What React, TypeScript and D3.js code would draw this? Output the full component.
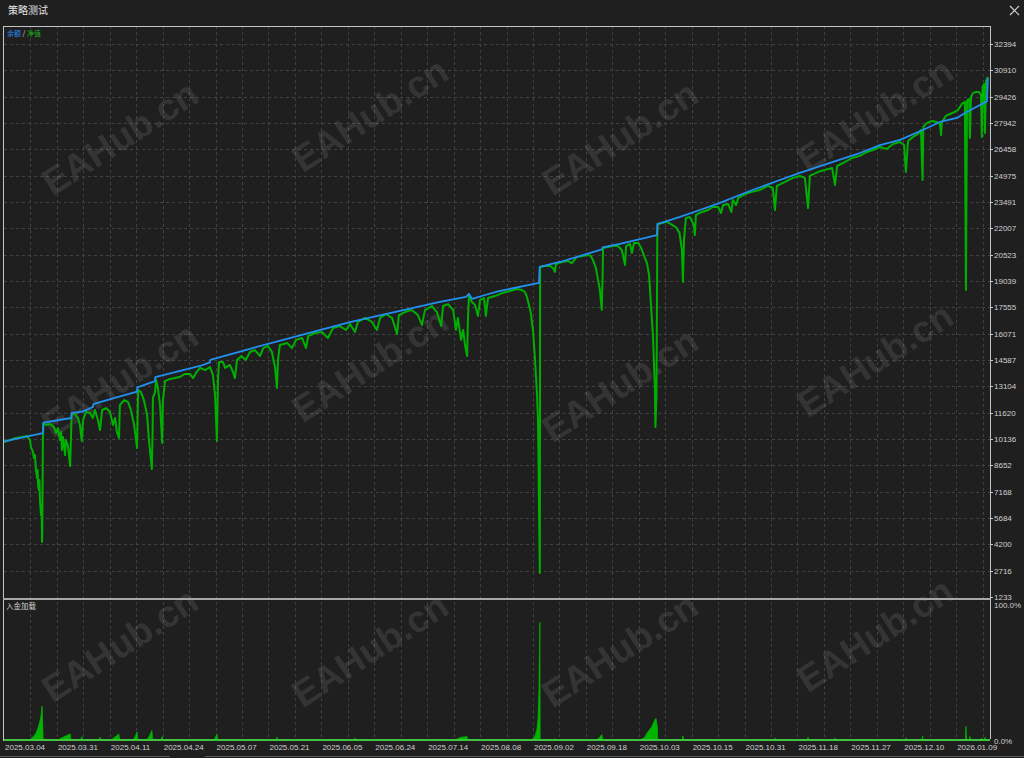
import React from "react";
import * as d3 from "d3";

// ---- data (x = deal index in grid units, y = account value) ----
const yTicks = [32394, 30910, 29426, 27942, 26458, 24975, 23491, 22007, 20523, 19039, 17555, 16071, 14587, 13104, 11620, 10136, 8652, 7168, 5684, 4200, 2716, 1233];
const dateLabels = ["2025.03.04", "2025.03.31", "2025.04.11", "2025.04.24", "2025.05.07", "2025.05.21", "2025.06.05", "2025.06.24", "2025.07.14", "2025.08.08", "2025.09.02", "2025.09.18", "2025.10.03", "2025.10.15", "2025.10.31", "2025.11.18", "2025.11.27", "2025.12.10", "2026.01.09"];
const loadTicks = ["100.0%", "0.0%"];

const balancePts: [number, number][] = [
  [0, 10000], [14.7, 10470], [14.9, 11060], [25.4, 11320], [25.6, 11600], [29.9, 11690], [33.6, 11940], [33.8, 12100], [41.2, 12420], [50.3, 12810], [50.4, 13040], [56.3, 13350], [57.1, 13390], [57.2, 13620], [74.1, 14250], [77.9, 14450], [78.0, 14600], [93.0, 15220], [111.9, 15980], [130.8, 16720], [149.7, 17350], [164.8, 17860], [174.7, 18140], [175.8, 18310], [177.0, 18030], [181.9, 18250], [187.5, 18480], [202.3, 18930], [202.5, 19830], [210.2, 20110], [226.1, 20820], [226.3, 20930], [232.9, 21130], [246.9, 21630], [247.1, 22250], [255.6, 22650], [263.1, 23040], [270.7, 23440], [282.0, 24110], [293.4, 24730], [300.9, 25130], [312.3, 25690], [323.6, 26250], [331.2, 26700], [338.8, 26990], [347.4, 27550], [353.9, 28000], [360.3, 28230], [363.3, 28510], [369.0, 28960], [371.6, 29160], [372.0, 30480]
];

const equityPts: [number, number][] = [
  [0, 9970], [2.3, 10080], [4.5, 10190], [6.8, 10250], [8.7, 10300], [9.8, 10080], [10.2, 9680], [11.0, 9400], [11.3, 9060], [11.7, 9230], [12.1, 8390], [12.5, 7940], [12.7, 8390], [12.9, 7540], [13.2, 7260], [13.4, 7820], [13.6, 6700], [14.0, 5850], [14.2, 6420], [14.4, 4330], [14.5, 5570], [14.7, 10080], [14.9, 11040],
  [15.9, 10920], [17.4, 10980], [18.9, 10810], [19.7, 10470], [20.4, 10750], [21.2, 10080], [21.6, 10530], [21.9, 9520], [22.3, 10250], [23.1, 9230], [23.4, 10080], [24.2, 9740], [25.0, 8610], [25.3, 10080], [25.6, 11600],
  [26.8, 11540], [28.0, 11320], [28.7, 10920], [29.4, 10020], [29.9, 11210], [31.0, 11660], [32.5, 11600], [33.6, 11320], [34.4, 11770], [35.5, 11210], [36.3, 10640], [37.1, 11770], [38.6, 11880], [40.1, 11660], [41.2, 10920], [42.0, 11320], [42.7, 10530], [43.5, 10190], [43.8, 12050], [45.4, 12330], [46.9, 12220], [48.0, 11770], [49.2, 10920], [50.3, 9630], [50.7, 12900], [51.8, 12780], [52.9, 12330], [54.1, 11490], [54.8, 10080], [55.9, 8450], [56.2, 10640], [56.3, 12450], [57.1, 12780], [57.5, 13460], [58.2, 13010], [59.0, 12050], [59.8, 9910], [60.1, 12330], [60.9, 13400],
  [62.8, 13520], [64.7, 13570], [66.5, 13630], [68.4, 13800], [70.3, 13800], [71.5, 13570], [72.6, 13860], [74.1, 14140], [76.0, 14020], [77.9, 14190], [79.0, 13740], [79.8, 12620], [80.5, 10020], [80.9, 13460], [81.3, 14470], [82.8, 14470], [83.6, 14140], [85.4, 14310], [86.6, 13910], [87.3, 13570], [88.1, 14590], [89.8, 14810], [91.4, 14590], [93.0, 15040], [94.9, 15150], [96.8, 14810], [98.0, 15260], [99.8, 15380], [101.3, 15040], [102.5, 14140], [103.2, 13010], [103.6, 14590], [104.3, 15430], [107.0, 15550], [108.9, 15260], [110.4, 15720], [112.7, 15830], [114.2, 15260], [115.0, 15940], [117.6, 16110], [120.2, 16170], [122.5, 15830], [124.4, 16390], [127.0, 16500], [129.3, 16280], [130.8, 16620], [132.7, 16170], [133.8, 16730], [136.5, 16960], [139.1, 16730], [141.0, 16280], [142.2, 16960], [144.4, 17180], [146.7, 16960], [148.6, 16050], [149.3, 17120], [151.6, 17290], [154.2, 17410], [156.5, 17120], [158.0, 16560], [159.2, 17410], [161.8, 17630], [163.7, 17290], [165.3, 16500], [166.0, 17630], [167.9, 17740], [169.8, 17410], [170.9, 16280], [171.6, 16960], [172.8, 15720], [173.6, 16280], [174.3, 15430], [175.1, 14810], [175.4, 16840], [175.8, 18190], [176.9, 17860], [178.1, 17690], [179.2, 17070], [180.0, 17970], [181.5, 18080], [182.2, 17070], [183.0, 18080], [185.6, 18190], [188.3, 18360], [191.3, 18480], [193.9, 18590], [195.8, 18530], [197.0, 18420], [197.7, 18140], [198.5, 17690], [199.2, 17240], [199.6, 16730], [200.0, 16280], [200.4, 15430], [200.8, 14590], [201.1, 13740], [201.5, 12730], [201.9, 11210], [202.1, 8950], [202.3, 6130], [202.6, 2580], [202.7, 19830],
  [204.5, 19890], [206.4, 19890], [207.6, 19770], [208.3, 19550], [208.7, 20000], [210.9, 20110], [213.2, 20170], [214.7, 20050], [216.5, 20390], [218.7, 20450], [220.6, 20510], [221.9, 20450], [222.7, 20220], [223.8, 19770], [224.6, 19100], [225.3, 18530], [226.0, 17410], [226.3, 19100], [226.5, 20900], [228.4, 20960], [230.3, 21010], [232.1, 21010], [233.6, 20790], [234.8, 19940], [235.2, 21010], [236.7, 21130], [237.4, 20620], [238.2, 21180], [239.8, 21180], [240.9, 20900], [241.6, 20620], [242.3, 20340], [243.1, 20050], [243.9, 19380], [244.2, 18700], [244.9, 17010], [245.4, 15890], [245.7, 14590], [246.1, 12900], [246.3, 10810], [246.7, 12610], [247.0, 21350], [247.1, 22250],
  [248.8, 22310], [250.7, 22370], [252.6, 22200], [254.0, 22080], [255.4, 21750], [256.3, 20790], [256.7, 18980], [257.1, 21350], [257.8, 22590], [259.3, 22650], [260.8, 22200], [261.2, 21630], [261.6, 22760], [263.9, 22930], [266.2, 23040], [268.0, 23210], [270.0, 23210], [271.1, 22870], [271.9, 23320], [273.8, 23380], [275.0, 22930], [275.6, 23610], [276.8, 23320], [277.6, 23720], [280.2, 23940], [282.8, 24060], [285.8, 24170], [288.8, 24400], [290.7, 24280], [291.5, 23040], [292.2, 24400], [295.3, 24620], [298.3, 24850], [300.9, 24960], [302.8, 24850], [304.0, 23150], [304.7, 24960], [307.7, 25180], [310.4, 25300], [313.1, 25410], [314.2, 24450], [315.0, 25520], [318.0, 25750], [320.6, 25970], [323.6, 26090], [326.3, 26310], [328.6, 26420], [331.2, 26590], [333.8, 26480], [336.1, 26760], [338.8, 26870], [340.3, 26700], [341.0, 25180], [341.8, 26930], [343.7, 27160], [345.6, 27330], [346.7, 27550], [347.3, 24730], [347.6, 27720], [349.0, 27950], [350.9, 28060], [352.7, 28000], [353.9, 27890], [354.3, 27270], [354.6, 28000], [356.1, 28340], [357.7, 28450], [359.5, 28570], [360.7, 28680], [362.2, 29020], [363.3, 29130], [363.7, 18530], [364.1, 29190], [364.9, 29300], [365.2, 27100], [365.6, 29410], [366.4, 29640], [367.5, 29690], [368.6, 29690], [369.4, 29520], [369.7, 27160], [370.0, 29970], [370.6, 30140], [370.9, 27380], [371.3, 30310], [372.0, 30540]
];

const loadPts: [number, number][] = [
  [0, 0], [9.5, 0], [10.2, 1], [11.3, 3], [12.1, 5], [12.9, 9], [13.6, 14], [14.0, 18], [14.4, 25], [14.6, 12], [14.8, 0],
  [20.4, 0], [21.2, 1], [22.3, 2], [23.4, 3], [25.0, 4.5], [25.3, 0],
  [29.0, 0], [29.4, 2.5], [29.7, 0], [35.8, 0], [36.3, 2], [36.6, 0],
  [40.5, 0], [41.5, 1.5], [42.5, 3], [43.4, 4.5], [43.7, 0],
  [48.5, 0], [49.5, 2], [50.3, 6], [50.6, 0], [54.0, 0], [55.0, 3], [55.9, 7], [56.2, 0],
  [59.3, 0], [59.8, 2.5], [60.0, 0], [79.5, 0], [80.5, 4.5], [80.8, 0],
  [102.8, 0], [103.2, 2], [103.5, 0], [132.5, 0], [132.7, 1.5], [133.0, 0],
  [170.5, 0], [172.8, 2], [175.1, 2.5], [175.4, 0],
  [199.0, 0], [200.0, 1], [200.8, 3], [201.5, 8], [201.9, 15], [202.1, 26], [202.3, 38], [202.6, 87], [202.7, 0],
  [208.0, 0], [208.3, 1], [208.6, 0],
  [224.0, 0], [225.3, 2], [226.0, 4], [226.4, 0],
  [240.5, 0], [242.3, 2], [243.1, 5], [244.2, 8], [245.0, 10], [246.1, 15], [246.5, 16], [247.0, 10], [247.2, 0],
  [256.5, 0], [256.7, 3], [256.9, 0], [291.3, 0], [291.5, 1.5], [291.7, 0], [303.8, 0], [304.0, 2], [304.2, 0],
  [314.0, 0], [314.2, 1.5], [314.4, 0], [340.8, 0], [341.0, 1.5], [341.2, 0], [347.1, 0], [347.3, 3], [347.5, 0],
  [363.5, 0], [363.7, 10], [363.9, 0], [365.0, 0], [365.2, 2.5], [365.4, 0], [369.5, 0], [369.7, 1.5], [369.9, 0], [370.7, 0], [370.9, 2], [371.1, 0], [372.8, 0]
];

const watermarkSpots: [number, number][] = [
  [120, 138], [370, 115], [620, 138], [875, 115],
  [120, 380], [370, 365], [620, 385], [875, 360],
  [120, 645], [370, 650], [620, 650], [875, 635]
];

const W = 1024, H = 758;
const L = 4, R = 990;
const MAIN_TOP = 26, MAIN_BOT = 598;
const LOW_TOP = 600, LOW_BOT = 741;
const BG = "#1f1f1f";
const GRID = "#414141";
const TXT = "#cfcfcf";
const FONT = "'Liberation Sans', Arial, sans-serif";
const CJK = "'Noto Sans CJK SC', sans-serif";

export default function App() {
  const x = d3.scaleLinear().domain([0, 372.8]).range([L, R]);
  const y = d3.scaleLinear().domain([1233, 32394]).range([597, 44]);
  const yl = d3.scaleLinear().domain([0, 100]).range([740, 605]);

  const line = d3.line<[number, number]>().x(d => x(d[0])).y(d => y(d[1])).curve(d3.curveLinear);
  const area = d3.area<[number, number]>().x(d => x(d[0])).y0(yl(0)).y1(d => yl(d[1])).curve(d3.curveLinear);

  const vGrid = d3.range(1, 38).map(k => x(k * 10));

  return (
    <svg width={W} height={H} style={{ position: "absolute", left: 0, top: 0, background: BG }} xmlns="http://www.w3.org/2000/svg">
      <defs>
        <clipPath id="clipMain"><rect x={L} y={MAIN_TOP} width={R - L} height={MAIN_BOT - MAIN_TOP} /></clipPath>
        <clipPath id="clipLow"><rect x={L} y={LOW_TOP} width={R - L} height={LOW_BOT - LOW_TOP} /></clipPath>
      </defs>
      <rect x={0} y={0} width={W} height={H} fill={BG} />
      {/* title bar */}
      <text x={8} y={14} fontSize={10} fill="#e4e4e4" fontFamily={CJK}>策略测试</text>
      <line x1={1010} y1={6} x2={1019} y2={15} stroke="#cfcfcf" strokeWidth={1.2} />
      <line x1={1019} y1={6} x2={1010} y2={15} stroke="#cfcfcf" strokeWidth={1.2} />

      {/* grids */}
      <g stroke={GRID} strokeDasharray="3,3" strokeWidth={1}>
        {vGrid.map((gx, i) => (
          <line key={"v" + i} x1={Math.round(gx) + 0.5} x2={Math.round(gx) + 0.5} y1={MAIN_TOP} y2={LOW_BOT - 1} />
        ))}
        {yTicks.slice(0, -1).map((t, i) => (
          <line key={"h" + i} x1={L} x2={R} y1={Math.round(y(t)) + 0.5} y2={Math.round(y(t)) + 0.5} />
        ))}
      </g>

      {/* watermarks */}
      <g fill="#ffffff" fillOpacity={0.11} fontFamily={FONT} fontWeight="bold" fontSize={37}>
        {watermarkSpots.map(([wx, wy], i) => (
          <text key={"w" + i} x={wx} y={wy} textAnchor="middle" dominantBaseline="central" transform={`rotate(-33 ${wx} ${wy})`}>EAHub.cn</text>
        ))}
      </g>

      {/* main series */}
      <g clipPath="url(#clipMain)">
        <path d={line(equityPts) || ""} fill="none" stroke="#00b000" strokeWidth={2} strokeLinejoin="round" />
        <path d={line(balancePts) || ""} fill="none" stroke="#2191f0" strokeWidth={1.8} strokeLinejoin="round" />
      </g>

      {/* lower panel */}
      <g clipPath="url(#clipLow)">
        <path d={area(loadPts) || ""} fill="#00b400" stroke="#00b400" strokeWidth={0.8} />
        <line x1={L} x2={R} y1={yl(0)} y2={yl(0)} stroke="#3fc43f" strokeWidth={2} />
      </g>

      {/* frame */}
      <g fill="none" stroke="#c4c4c4" strokeWidth={1}>
        <line x1={3} x2={R + 0.5} y1={26.5} y2={26.5} />
        <line x1={3.5} x2={3.5} y1={26} y2={LOW_BOT} />
        <line x1={R + 0.5} x2={R + 0.5} y1={26} y2={LOW_BOT - 2} />
      </g>
      <line x1={3} x2={R} y1={599} y2={599} stroke="#a8a8a8" strokeWidth={2} />

      {/* legends */}
      <text x={7} y={36} fontSize={7} fontFamily={CJK}>
        <tspan fill="#2a8cf0">余额</tspan>
        <tspan fill="#d8d8d8"> / </tspan>
        <tspan fill="#19b019">净值</tspan>
      </text>
      <text x={6} y={609} fontSize={7.5} fill={TXT} fontFamily={CJK}>入金加载</text>

      {/* right axis */}
      <g fontFamily={FONT} fontSize={8} fill={TXT}>
        {yTicks.map((t, i) => (
          <g key={"yt" + i}>
            <line x1={R} x2={R + 3} y1={Math.round(y(t)) + 0.5} y2={Math.round(y(t)) + 0.5} stroke="#c4c4c4" />
            <text x={994} y={y(t) + 3}>{t}</text>
          </g>
        ))}
        <text x={994} y={yl(100) + 3}>{loadTicks[0]}</text>
        <text x={994} y={yl(0) + 4}>{loadTicks[1]}</text>
      </g>

      {/* bottom axis */}
      <g fontFamily={FONT} fontSize={8} fill={TXT}>
        {dateLabels.map((lab, i) => (
          <text key={"xl" + i} x={x(i * 20) + 1} y={750}>{lab}</text>
        ))}
      </g>
      <line x1={0} x2={170} y1={756.5} y2={756.5} stroke="#5a5a5a" />
      <line x1={205} x2={W} y1={756.5} y2={756.5} stroke="#5a5a5a" />
    </svg>
  );
}
